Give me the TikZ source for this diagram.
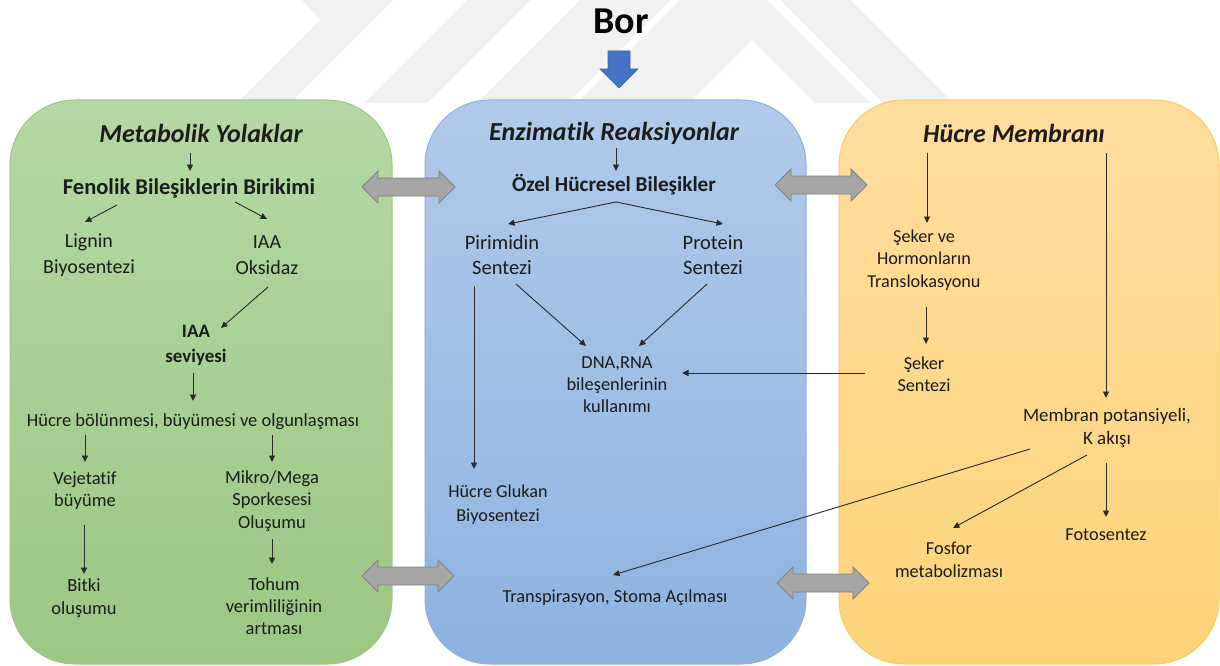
\documentclass[tikz,border=0pt]{standalone}
\usepackage{fontspec}
\setmainfont{Carlito}[Ligatures={NoCommon,NoContextual}]
\usetikzlibrary{arrows.meta,calc}
\definecolor{txt}{HTML}{1C1C1C}
\definecolor{lncol}{HTML}{2A2A2A}
\definecolor{wmark}{HTML}{F1F1F1}
\definecolor{gtop}{HTML}{B5D8A4}
\definecolor{gbot}{HTML}{9BC783}
\definecolor{gbrd}{HTML}{9CC886}
\definecolor{btop}{HTML}{B0CAEA}
\definecolor{bbot}{HTML}{8EB3E0}
\definecolor{bbrd}{HTML}{8DB0DC}
\definecolor{otop}{HTML}{FEDD9E}
\definecolor{obot}{HTML}{FDD37A}
\definecolor{obrd}{HTML}{FBCB5E}
\definecolor{darrfill}{HTML}{A6A6A6}
\definecolor{darrline}{HTML}{808080}
\definecolor{borblue}{HTML}{4472C4}
\definecolor{borline}{HTML}{3A62A8}

% gray double-headed block arrow: left tip x, right tip x, centre y
\newcommand{\dblarrow}[3]{%
  \filldraw[fill=darrfill, draw=darrline, line width=0.8pt, line join=miter]
    (#1,#3) -- ({#1+16},{#3-16}) -- ({#1+16},{#3-9}) -- ({#2-16},{#3-9})
    -- ({#2-16},{#3-16}) -- (#2,#3) -- ({#2-16},{#3+16}) -- ({#2-16},{#3+9})
    -- ({#1+16},{#3+9}) -- ({#1+16},{#3+16}) -- cycle;}

\tikzset{
  lbl/.style={align=center, inner sep=0pt, text=txt},
  ttl/.style={lbl, font=\fontsize{26}{30}\selectfont\bfseries\itshape},
  conn/.style={draw=lncol, line width=0.9pt, -{Triangle[length=6.5pt,width=6pt]}},
  panel/.style={rounded corners=65pt, line width=1pt},
}

\begin{document}
\begin{tikzpicture}[x=1pt, y=-1pt]
\useasboundingbox (0,0) rectangle (1220,666);
\fill[white] (0,0) rectangle (1220,666);

% faint logo stripes in the background
\fill[wmark] (302,0) -- (393,0) -- (290,103) -- (237,103) -- (320,20) -- cycle;
\fill[wmark] (467,0) -- (530,0) -- (427,103) -- (364,103) -- cycle;
\fill[wmark] (580,0) -- (670,0) -- (567,103) -- (477,103) -- cycle;
\fill[wmark] (680,0) -- (767,0) -- (870,103) -- (815,103) -- (752,40)
  -- (689,103) -- (577,103) -- cycle;
\fill[wmark] (780,0) -- (850,0) -- (953,103) -- (883,103) -- cycle;

% three panels
\shadedraw[panel, draw=gbrd, top color=gtop, bottom color=gbot] (10,100) rectangle (392,664);
\shadedraw[panel, draw=bbrd, top color=btop, bottom color=bbot] (425,100) rectangle (806,664);
\shadedraw[panel, draw=obrd, top color=otop, bottom color=obot] (839,100) rectangle (1219,664);

% block arrows between the panels
\dblarrow{362}{455}{187}
\dblarrow{775}{867}{185}
\dblarrow{362}{454}{576}
\dblarrow{777}{869}{583}

% Bor and its arrow
\node[lbl, font=\fontsize{38}{44}\selectfont\bfseries, text=black] (bor) at (621,21) {Bor};
\filldraw[fill=borblue, draw=borline, line width=0.6pt, line join=miter]
  (608,51) -- (630,51) -- (630,69) -- (638,69) -- (619,88) -- (600,69) -- (608,69) -- cycle;

% ---------- Metabolik Yolaklar ----------
\node[ttl] (t1) at (201,133) {Metabolik Yolaklar};
\node[lbl, font=\fontsize{22.5}{27}\selectfont\bfseries] (fen) at (189,188) {Fenolik Bileşiklerin Birikimi};
\node[lbl, font=\fontsize{20}{26}\selectfont] (lig) at (89,255) {Lignin\\Biyosentezi};
\node[lbl, font=\fontsize{20}{26}\selectfont] (iaa) at (267,255) {IAA\\Oksidaz};
\node[lbl, font=\fontsize{19}{25}\selectfont\bfseries] (sev) at (196,345) {IAA\\seviyesi};
\node[lbl, font=\fontsize{18.5}{22}\selectfont] (hb) at (193,422) {Hücre bölünmesi, büyümesi ve olgunlaşması};
\node[lbl, font=\fontsize{18.5}{22}\selectfont] (veg) at (85,491) {Vejetatif\\büyüme};
\node[lbl, font=\fontsize{18.5}{22.5}\selectfont] (mik) at (272,501) {Mikro/Mega\\Sporkesesi\\Oluşumu};
\node[lbl, font=\fontsize{18.5}{23}\selectfont] (bit) at (84,598) {Bitki\\oluşumu};
\node[lbl, font=\fontsize{18.5}{22}\selectfont] (toh) at (274,606) {Tohum\\verimliliğinin\\artması};

\draw[conn] ($(t1)+(-11,20)$) -- ($(fen)+(1,-17)$);
\draw[conn] ($(fen)+(-72,17)$) -- ($(lig)+(-4,-33)$);
\draw[conn] ($(fen)+(46,14)$) -- ($(iaa)+(0,-36)$);
\draw[conn] ($(iaa)+(1,32)$) -- ($(sev)+(25,-17)$);
\draw[conn] ($(sev)+(-3,28)$) -- ($(hb)+(0,-21)$);
\draw[conn] ($(hb)+(-108,13)$) -- ($(veg)+(0,-29)$);
\draw[conn] ($(hb)+(79,13)$) -- ($(mik)+(0,-39)$);
\draw[conn] ($(veg)+(-1,34)$) -- ($(bit)+(0,-24)$);
\draw[conn] ($(mik)+(0,38)$) -- ($(toh)+(-2,-42)$);

% ---------- Enzimatik Reaksiyonlar ----------
\node[ttl] (t2) at (614,133) {Enzimatik Reaksiyonlar};
\node[lbl, font=\fontsize{21.2}{26}\selectfont\bfseries] (ozel) at (614,185) {Özel Hücresel Bileşikler};
\node[lbl, font=\fontsize{20.5}{25}\selectfont] (pir) at (502,255) {Pirimidin\\Sentezi};
\node[lbl, font=\fontsize{20.5}{25}\selectfont] (pro) at (713,255) {Protein\\Sentezi};
\node[lbl, font=\fontsize{18.4}{22}\selectfont] (dna) at (617,385) {DNA,RNA\\bileşenlerinin\\kullanımı};
\node[lbl, font=\fontsize{18.2}{24}\selectfont] (glu) at (498,505) {Hücre Glukan\\Biyosentezi};
\node[lbl, font=\fontsize{18.4}{22}\selectfont] (tra) at (615,598) {Transpirasyon, Stoma Açılması};

\draw[conn] ($(t2)+(2,15)$) -- ($(ozel)+(2,-14)$);
\draw[conn] ($(ozel)+(2,17)$) -- ($(pir)+(6,-31)$);
\draw[conn] ($(ozel)+(2,17)$) -- ($(pro)+(10,-31)$);
\draw[conn] ($(pir)+(14,29)$) -- ($(dna)+(-31,-39)$);
\draw[conn] ($(pro)+(-6,29)$) -- ($(dna)+(22,-39)$);
\draw[conn] ($(pir)+(-28,31)$) -- ($(glu)+(-24,-36)$);

% ---------- Hücre Membranı ----------
\node[ttl] (t3) at (1014,133) {Hücre Membranı};
\node[lbl, font=\fontsize{18.2}{22.5}\selectfont] (sek1) at (924,260) {Şeker ve\\Hormonların\\Translokasyonu};
\node[lbl, font=\fontsize{18.2}{22}\selectfont] (sek) at (924,374) {Şeker\\Sentezi};
\node[lbl, font=\fontsize{18.9}{23}\selectfont] (mem) at (1107,428) {Membran potansiyeli,\\K akışı};
\node[lbl, font=\fontsize{18.3}{23}\selectfont] (fos) at (949,560) {Fosfor\\metabolizması};
\node[lbl, font=\fontsize{18.3}{22}\selectfont] (foto) at (1106,535) {Fotosentez};

\draw[conn] ($(t3)+(-87,20)$) -- ($(sek1)+(3,-37)$);
\draw[conn] ($(sek1)+(2,47)$) -- ($(sek)+(2,-30)$);
\draw[conn] ($(t3)+(92,20)$) -- ($(mem)+(-1,-30)$);
\draw[conn] ($(mem)+(-20,27)$) -- ($(fos)+(4,-32)$);
\draw[conn] ($(mem)+(-1,35)$) -- ($(foto)+(0,-18)$);

% links reaching across panels
\draw[conn] ($(sek)+(-59,-1)$) -- ($(dna)+(65,-12)$);
\draw[conn] ($(mem)+(-77,21)$) -- ($(tra)+(-2,-23)$);
\end{tikzpicture}
\end{document}
